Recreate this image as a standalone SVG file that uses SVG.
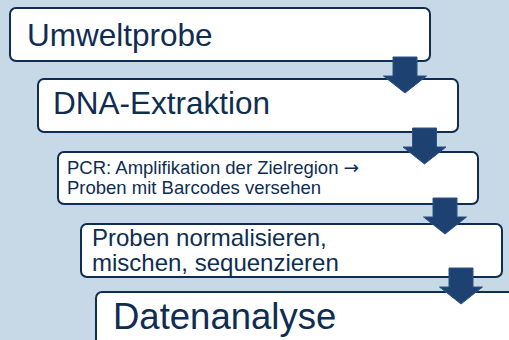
<svg xmlns="http://www.w3.org/2000/svg" width="509" height="340" viewBox="0 0 509 340">
<style>
.box{fill:#ffffff;stroke:#0f2d52;stroke-width:2}
.t{font-family:"Liberation Sans",Arial,sans-serif;fill:#0f2d52}
.sym{font-family:"DejaVu Sans",sans-serif}
.arr{fill:#1d4271;stroke:#2b5385;stroke-width:1}
</style>
<defs>
<path id="darrow" d="M-12,0 H12 V19 H21.5 L0,36 L-21.5,19 H-12 Z"/>
</defs>
<rect x="0" y="0" width="509" height="340" fill="#c7d8e7"/>
<g id="n1">
<rect class="box" x="10" y="8" width="420" height="53" rx="6"/>
<text class="t" x="27" y="46" font-size="31.5">Umweltprobe</text>
</g>
<g id="n2">
<rect class="box" x="38" y="79" width="420" height="53" rx="6"/>
<text class="t" x="53" y="114" font-size="31.5">DNA-Extraktion</text>
</g>
<g id="n3">
<rect class="box" x="58" y="152" width="420" height="52" rx="6"/>
<text class="t" x="67" y="174" font-size="18.5">PCR: Amplifikation der Zielregion <tspan class="sym">→</tspan></text>
<text class="t" x="67" y="194" font-size="18.5">Proben mit Barcodes versehen</text>
</g>
<g id="n4">
<rect class="box" x="81" y="224" width="421" height="53" rx="6"/>
<text class="t" x="92" y="246" font-size="24">Proben normalisieren,</text>
<text class="t" x="92" y="271" font-size="24">mischen, sequenzieren</text>
</g>
<g id="n5">
<rect class="box" x="96" y="292" width="440" height="70" rx="6"/>
<text class="t" x="113" y="329" font-size="36.5">Datenanalyse</text>
</g>
<g id="connectors">
<use href="#darrow" class="arr" x="405" y="57"/>
<use href="#darrow" class="arr" x="424.5" y="128"/>
<use href="#darrow" class="arr" x="445" y="198"/>
<use href="#darrow" class="arr" x="461" y="268"/>
</g>
</svg>
